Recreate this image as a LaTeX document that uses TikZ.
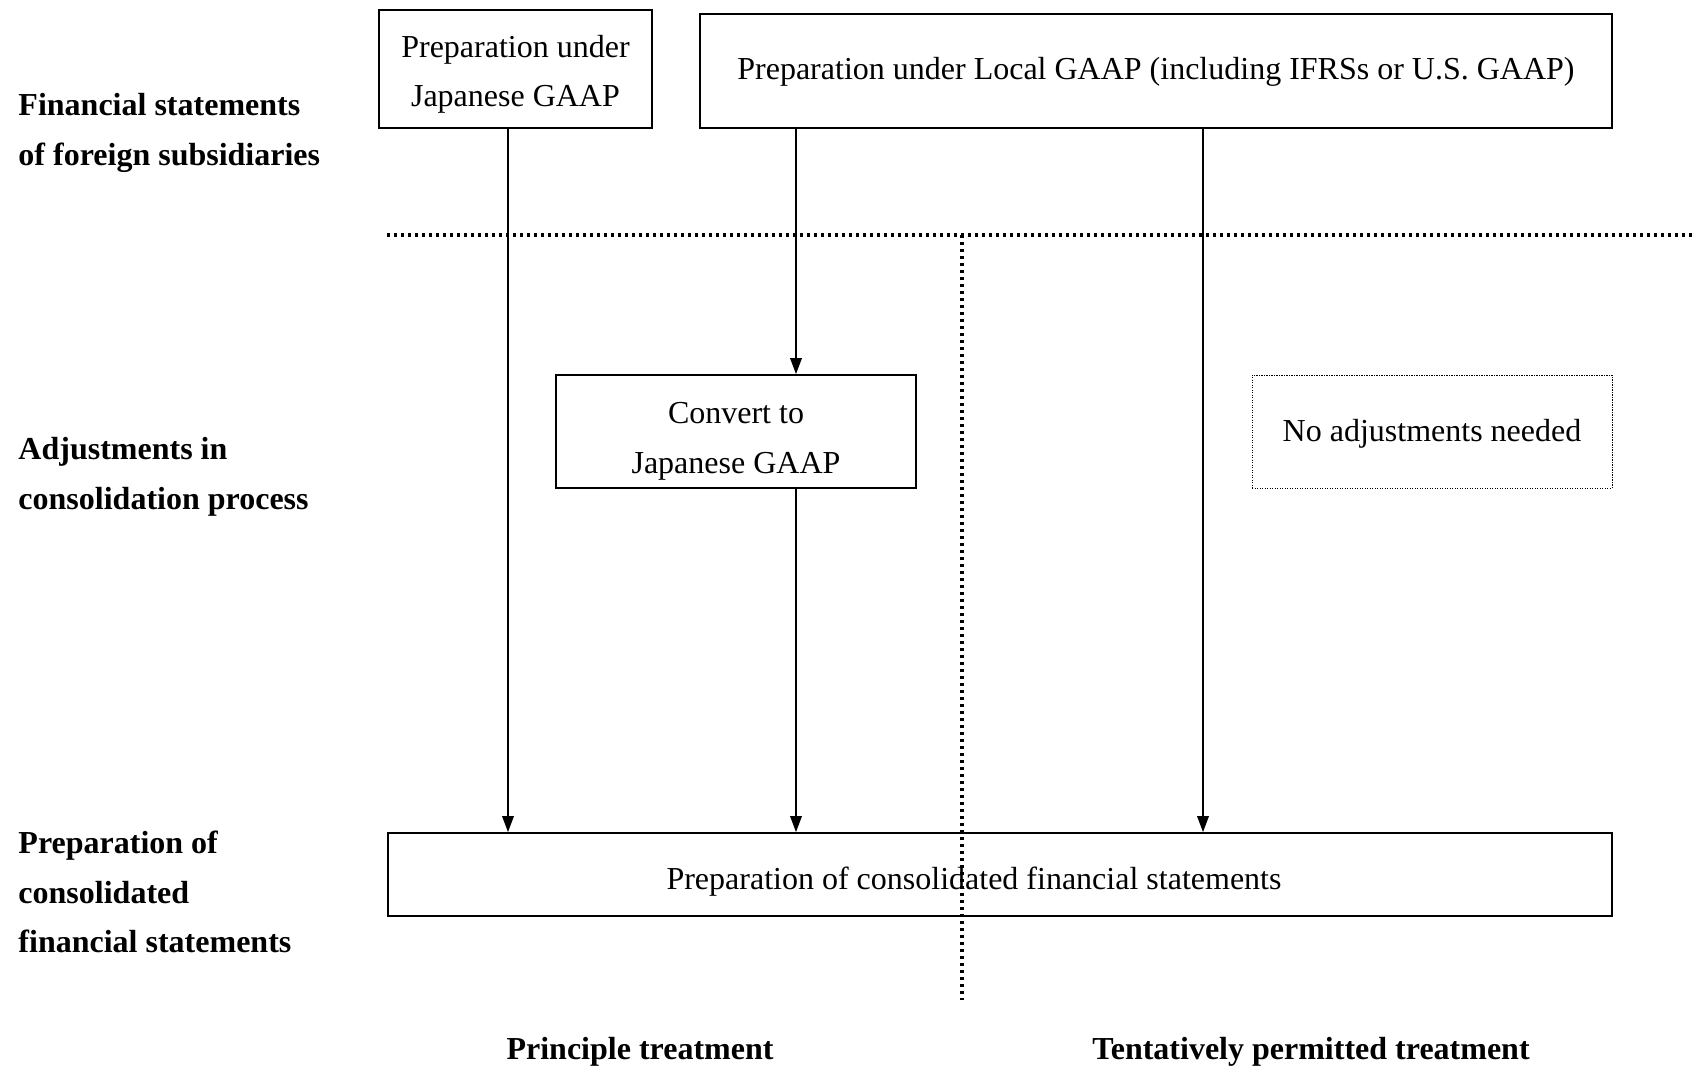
\documentclass[tikz,border=0pt]{standalone}
\usepackage{fontspec}
\setmainfont{Liberation Serif}
\usetikzlibrary{arrows.meta}
\tikzset{
    txt/.style={font=\fontsize{12.8}{19.8}\selectfont, align=center},
    box/.style={draw, line width=0.7pt, inner sep=0pt},
    nobox/.style={draw, line width=0.4pt, dash pattern=on 0.5pt off 0.5pt, inner sep=0pt},
    head/.style={anchor=west, align=left, inner sep=0pt, font=\fontsize{12.8}{19.8}\selectfont\bfseries},
    foot/.style={font=\fontsize{12.8}{19.8}\selectfont\bfseries},
    arr/.style={line width=0.7pt, -{Triangle[length=6.4pt,width=4.6pt]}},
    divider/.style={line width=1.3pt, dash pattern=on 1.3pt off 1.5pt}
}
\begin{document}
\begin{tikzpicture}[x=0.4pt, y=-0.4pt]
        \useasboundingbox (0,0) rectangle (1695,1067);
        \node[head] (lfs)  at (18,133)   {Financial statements\\of foreign subsidiaries};
        \node[head] (ladj) at (18,477)   {Adjustments in\\consolidation process};
        \node[head] (lcon) at (18,892)   {Preparation of\\consolidated\\financial statements};
        \node[box, minimum width=109.2pt, minimum height=47.2pt,
              label={[txt, yshift=-2.2pt]center:Preparation under\\Japanese GAAP}] (jp) at (515.5,69) {};
        \node[box, minimum width=364.8pt, minimum height=45.6pt,
              label={[txt, yshift=-0.4pt]center:Preparation under Local GAAP (including IFRSs or U.S. GAAP)}] (local) at (1156,71) {};
        \node[box, minimum width=144pt, minimum height=45.2pt,
              label={[txt, yshift=-3.9pt]center:Convert to\\Japanese GAAP}] (conv) at (736,431.5) {};
        \node[nobox, minimum width=144pt, minimum height=45.2pt,
              label={[txt, yshift=-0.9pt]center:No adjustments needed}] (noadj) at (1432,431.5) {};
        \node[box, minimum width=489.6pt, minimum height=33.2pt,
              label={[txt, xshift=-10.4pt, yshift=-3pt]center:Preparation of consolidated financial statements}] (cons) at (1000,874.5) {};
        \coordinate (hl) at (387,235);
        \coordinate (hr) at (1695,235);
        \coordinate (vt) at (962,235);
        \coordinate (vb) at (962,1000);
        \coordinate (c1) at (508,0);
        \coordinate (c2) at (796,0);
        \coordinate (c3) at (1203,0);
        \draw[divider] (hl) -- (hr);
        \draw[divider] (vt) -- (vb);
        \draw[arr] (jp.south -| c1) -- (cons.north -| c1);
        \draw[arr] (local.south -| c2) -- (conv.north -| c2);
        \draw[arr] (conv.south -| c2) -- (cons.north -| c2);
        \draw[arr] (local.south -| c3) -- (cons.north -| c3);
        \node[foot] (pt) at (640,1052)  {Principle treatment};
        \node[foot] (tp) at (1311,1052) {Tentatively permitted treatment};
    \end{tikzpicture}
\end{document}
